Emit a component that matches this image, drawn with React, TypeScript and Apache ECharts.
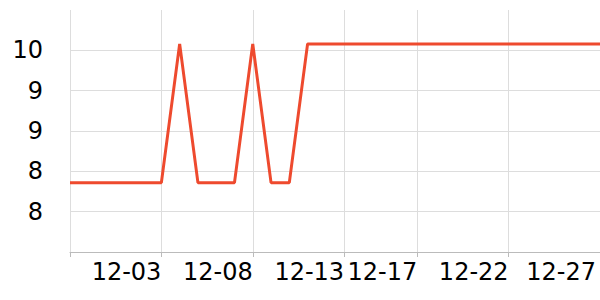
import React, { useEffect, useRef } from "react";
import * as echarts from "echarts";

const dates = [
  "11-28", "11-29", "11-30", "12-01", "12-02", "12-03", "12-04", "12-05", "12-06", "12-07",
  "12-08", "12-09", "12-10", "12-11", "12-12", "12-13", "12-14", "12-15", "12-16", "12-17",
  "12-18", "12-19", "12-20", "12-21", "12-22", "12-23", "12-24", "12-25", "12-26", "12-27",
];
const values = [
  7.86, 7.86, 7.86, 7.86, 7.86, 7.86, 9.58, 7.86, 7.86, 7.86,
  9.58, 7.86, 7.86, 9.58, 9.58, 9.58, 9.58, 9.58, 9.58, 9.58,
  9.58, 9.58, 9.58, 9.58, 9.58, 9.58, 9.58, 9.58, 9.58, 9.58,
];
const tickIndices = [0, 5, 10, 15, 19, 24];
const labelIndices = [5, 10, 15, 19, 24, 29];

export default function App() {
  const ref = useRef<HTMLDivElement>(null);
  useEffect(() => {
    if (!ref.current) return;
    document.body.style.margin = "0";
    const chart = echarts.init(ref.current, null, { renderer: "svg", width: 600, height: 300 });
    const font = "DejaVu Sans";
    chart.setOption({
      animation: false,
      grid: { left: 70, right: 0, top: 10, bottom: 48 },
      xAxis: {
        type: "category",
        data: dates,
        boundaryGap: false,
        axisLine: { lineStyle: { color: "#bbbbbb", width: 1 } },
        axisTick: {
          show: true,
          length: 5,
          interval: (i: number) => tickIndices.includes(i),
          lineStyle: { color: "#bbbbbb" },
        },
        axisLabel: {
          interval: (i: number) => labelIndices.includes(i),
          align: "right",
          margin: 8,
          fontSize: 24,
          fontFamily: font,
          color: "#000",
          formatter: (v: string, i: number) => (i === dates.length - 1 ? `{e|${v}}` : v),
          rich: {
            e: { padding: [0, 4, 0, 0], fontSize: 24, fontFamily: font, color: "#000" },
          },
        },
        splitLine: {
          show: true,
          interval: (i: number) => tickIndices.includes(i),
          lineStyle: { color: "#dddddd", width: 1 },
        },
      },
      yAxis: {
        type: "value",
        min: 7,
        max: 10,
        interval: 0.5,
        axisLine: { show: false },
        axisTick: { show: false },
        axisLabel: {
          showMinLabel: false,
          showMaxLabel: false,
          margin: 27,
          fontSize: 24,
          fontFamily: font,
          color: "#000",
          formatter: (v: number) => v.toFixed(0),
        },
        splitLine: {
          show: true,
          lineStyle: {
            color: ["#dddddd", "#dddddd", "#dddddd", "#dddddd", "#dddddd", "#dddddd", "transparent"],
            width: 1,
          },
        },
      },
      series: [
        {
          type: "line",
          data: values,
          symbol: "none",
          lineStyle: { color: "#ee4a2e", width: 3 },
        },
      ],
    });
    return () => chart.dispose();
  }, []);
  return <div ref={ref} style={{ width: 600, height: 300 }} />;
}
